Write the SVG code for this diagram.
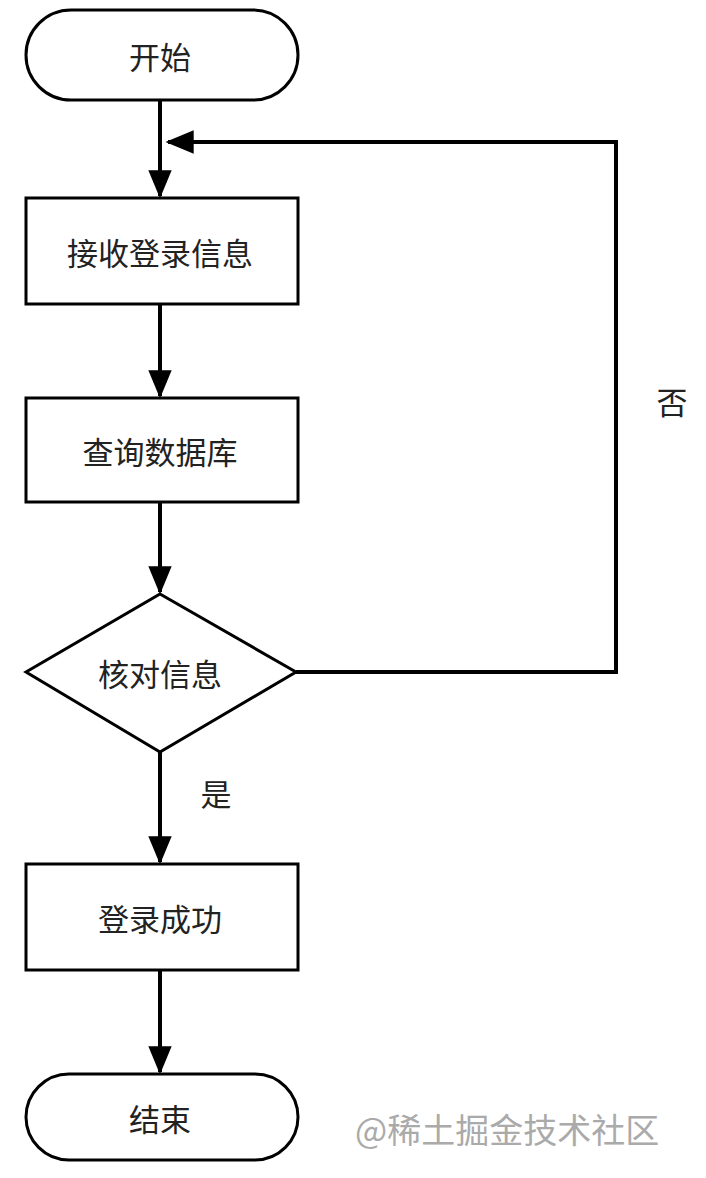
<svg xmlns="http://www.w3.org/2000/svg" width="706" height="1178" viewBox="0 0 706 1178">
<style>
.n{fill:#fff;stroke:#000;stroke-width:3}
.t{font-family:"Noto Sans CJK SC",sans-serif;font-size:31px;fill:#222;text-anchor:middle;dominant-baseline:central}
.c{fill:none;stroke:#000;stroke-width:4}
</style>
<defs><marker id="a" viewBox="0 0 12 10" refX="11" refY="5" markerWidth="7" markerHeight="6" markerUnits="strokeWidth" orient="auto"><path d="M0,0L12,5L0,10z" fill="#000"/></marker></defs>
<rect width="706" height="1178" fill="#fff"/>
<g id="connectors">
<path class="c" d="M160,100V196" marker-end="url(#a)"/>
<path class="c" d="M160,304V396" marker-end="url(#a)"/>
<path class="c" d="M160,502V592" marker-end="url(#a)"/>
<path class="c" d="M160,752V862" marker-end="url(#a)"/>
<path class="c" d="M160,970V1072" marker-end="url(#a)"/>
<path class="c" d="M296,672H616V142H168" marker-end="url(#a)"/>
<text class="t" x="672" y="400">否</text>
<text class="t" x="216" y="792">是</text>
</g>
<g id="start"><rect class="n" x="26" y="10" width="272" height="90" rx="45"/><text class="t" x="160" y="55">开始</text></g>
<g id="recv"><rect class="n" x="26" y="198" width="272" height="106"/><text class="t" x="160" y="251">接收登录信息</text></g>
<g id="query"><rect class="n" x="26" y="398" width="272" height="104"/><text class="t" x="160" y="450">查询数据库</text></g>
<g id="check"><path class="n" d="M160,594L296,672L160,752L26,672z"/><text class="t" x="160" y="672">核对信息</text></g>
<g id="ok"><rect class="n" x="26" y="864" width="272" height="106"/><text class="t" x="160" y="917">登录成功</text></g>
<g id="end"><rect class="n" x="26" y="1074" width="272" height="86" rx="43"/><text class="t" x="160" y="1117">结束</text></g>
<text x="355" y="1128" style="font-family:'Noto Sans CJK SC',sans-serif;font-size:34px;fill:#aaa;dominant-baseline:central">@稀土掘金技术社区</text>
</svg>
